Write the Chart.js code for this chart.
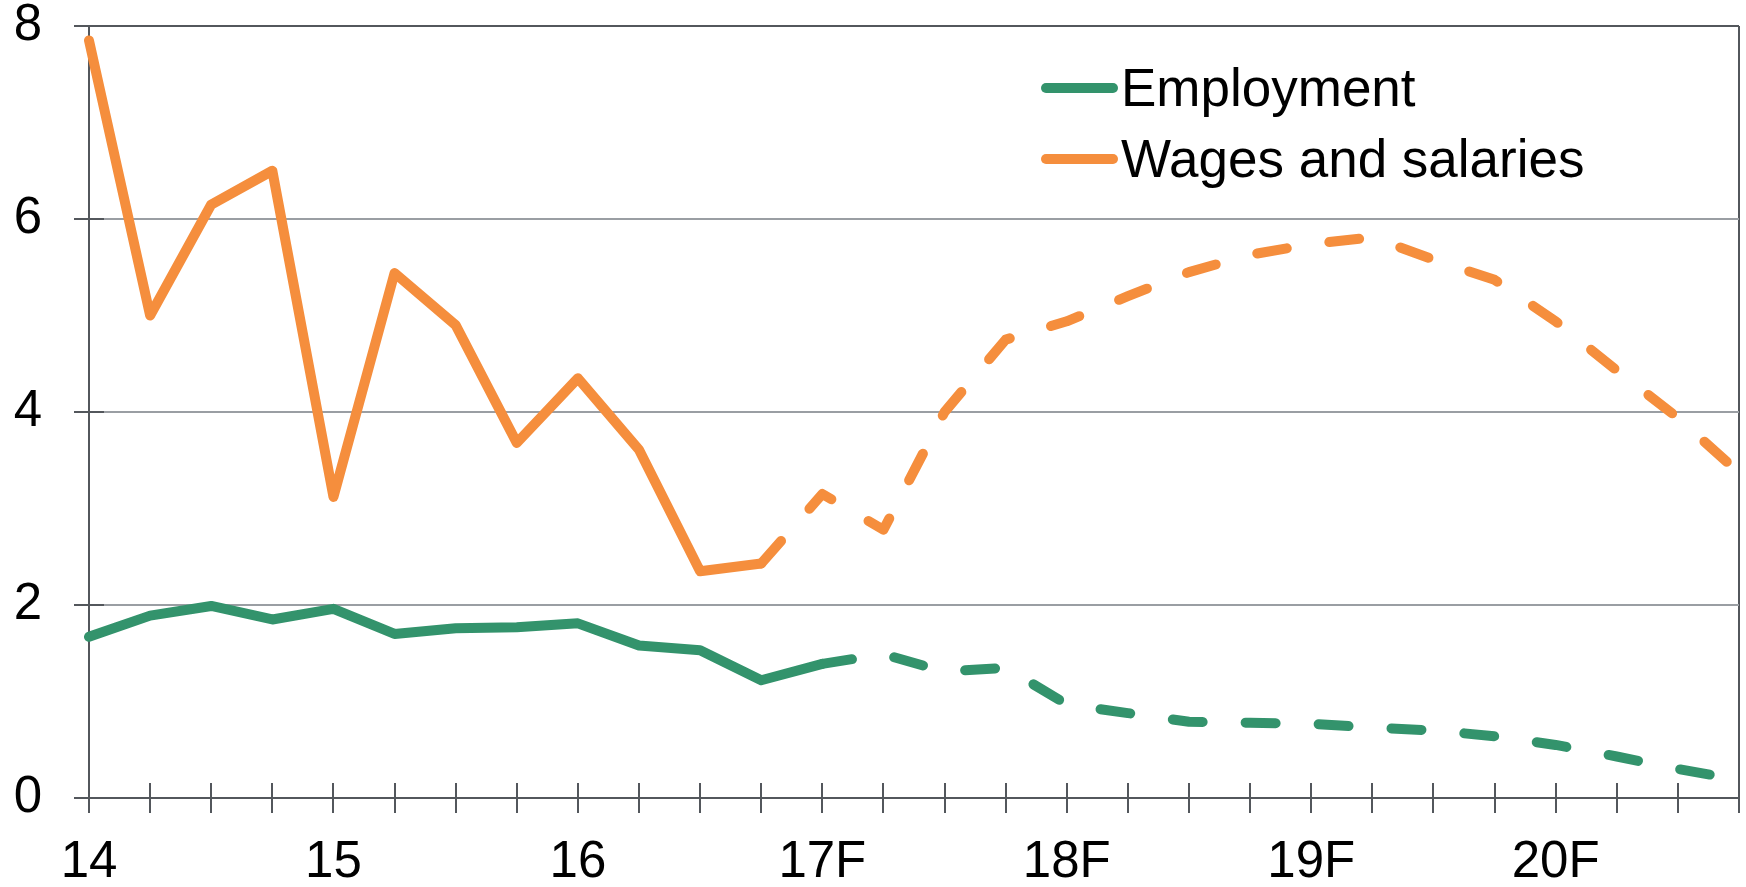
<!DOCTYPE html>
<html>
<head>
<meta charset="utf-8">
<script src="https://cdn.jsdelivr.net/npm/chart.js@4.4.1/dist/chart.umd.min.js"></script>
<style>
  html, body { margin: 0; padding: 0; background: #fff; }
  canvas { display: block; }
</style>
</head>
<body>
<canvas id="chart" width="1746" height="887"></canvas>
<script>
// quarterly, 14Q1 .. 20Q4 (F = forecast)
const quarters = [
  '14Q1', '14Q2', '14Q3', '14Q4', '15Q1', '15Q2', '15Q3', '15Q4',
  '16Q1', '16Q2', '16Q3', '16Q4', '17Q1', '17Q2', '17Q3', '17Q4',
  '18Q1', '18Q2', '18Q3', '18Q4', '19Q1', '19Q2', '19Q3', '19Q4',
  '20Q1', '20Q2', '20Q3', '20Q4'
];
const yearLabels = ['14', '15', '16', '17F', '18F', '19F', '20F'];

const employment = [
  1.67, 1.89, 1.99, 1.85, 1.96, 1.70, 1.76, 1.77,
  1.81, 1.58, 1.53, 1.22, 1.39, 1.49, 1.31, 1.35,
  0.97, 0.88, 0.79, 0.78, 0.77, 0.73, 0.70, 0.64,
  0.55, 0.43, 0.30, 0.19
];
const wages = [
  7.85, 5.00, 6.15, 6.50, 3.12, 5.44, 4.90, 3.68,
  4.35, 3.61, 2.35, 2.43, 3.15, 2.78, 4.00, 4.75,
  4.94, 5.20, 5.45, 5.63, 5.74, 5.81, 5.58, 5.37,
  4.94, 4.43, 3.94, 3.37
];
// index where the dashed (forecast) part of each line begins
const employmentDashFrom = 12;
const wagesDashFrom = 11;

const green = '#33936c';
const orange = '#f58e3d';
const axisGrey = '#53575c';
const gridGrey = '#9a9ea3';
const fontFamily = "'Liberation Sans', Arial, sans-serif";
const dash = [30, 43];

const dashedFrom = (start) => (ctx) => (ctx.p0DataIndex >= start ? dash : undefined);

// tick marks crossing the axes (Chart.js only draws the outer half)
const innerTicks = {
  id: 'innerTicks',
  beforeDatasetsDraw(chart) {
    const { ctx, chartArea, scales } = chart;
    ctx.save();
    ctx.strokeStyle = axisGrey;
    ctx.lineWidth = 2;
    ctx.beginPath();
    scales.x.ticks.forEach((t, i) => {
      const x = Math.round(scales.x.getPixelForTick(i));
      ctx.moveTo(x, chartArea.bottom);
      ctx.lineTo(x, chartArea.bottom - 15);
    });
    scales.y.ticks.forEach((t, i) => {
      const y = Math.round(scales.y.getPixelForTick(i));
      ctx.moveTo(chartArea.left, y);
      ctx.lineTo(chartArea.left + 15, y);
    });
    ctx.stroke();
    ctx.restore();
  }
};

// legend sitting inside the plot, top right
const insideLegend = {
  id: 'insideLegend',
  afterDraw(chart) {
    const ctx = chart.ctx;
    ctx.save();
    ctx.font = '53px ' + fontFamily;
    ctx.textBaseline = 'alphabetic';
    ctx.lineCap = 'round';
    ctx.lineWidth = 10;
    chart.data.datasets.forEach((ds, i) => {
      const base = 106 + i * 71;
      ctx.strokeStyle = ds.borderColor;
      ctx.beginPath();
      ctx.moveTo(1046, base - 18);
      ctx.lineTo(1113, base - 18);
      ctx.stroke();
      ctx.fillStyle = '#000';
      ctx.fillText(ds.label, 1121, base);
    });
    ctx.restore();
  }
};

new Chart(document.getElementById('chart'), {
  type: 'line',
  data: {
    labels: quarters,
    datasets: [
      {
        label: 'Employment',
        data: employment,
        borderColor: green,
        backgroundColor: green,
        borderWidth: 10,
        borderCapStyle: 'round',
        borderJoinStyle: 'round',
        pointRadius: 0,
        tension: 0,
        segment: { borderDash: dashedFrom(employmentDashFrom) }
      },
      {
        label: 'Wages and salaries',
        data: wages,
        borderColor: orange,
        backgroundColor: orange,
        borderWidth: 10,
        borderCapStyle: 'round',
        borderJoinStyle: 'round',
        pointRadius: 0,
        tension: 0,
        segment: { borderDash: dashedFrom(wagesDashFrom) }
      }
    ]
  },
  options: {
    responsive: false,
    animation: false,
    devicePixelRatio: 1,
    layout: { padding: { top: 26, right: 7, left: 0, bottom: 0 } },
    plugins: {
      legend: { display: false },
      tooltip: { enabled: false }
    },
    scales: {
      x: {
        offset: false,
        afterFit: (scale) => {
          scale.height = 89;
          scale.paddingLeft = 0;
          scale.paddingRight = 0;
        },
        border: { color: axisGrey, width: 2 },
        grid: {
          drawOnChartArea: true,
          color: (c) => (c.index === quarters.length - 1 ? axisGrey : 'rgba(0,0,0,0)'),
          lineWidth: 2,
          tickColor: axisGrey,
          tickWidth: 2,
          tickLength: 15
        },
        ticks: {
          autoSkip: false,
          maxRotation: 0,
          padding: 24,
          color: '#000',
          font: { family: fontFamily, size: 51, lineHeight: 1 },
          callback: (v, i) => (i % 4 === 0 ? yearLabels[i / 4] : '')
        }
      },
      y: {
        min: 0,
        max: 8,
        afterFit: (scale) => {
          scale.width = 89;
          scale.paddingTop = 0;
          scale.paddingBottom = 0;
        },
        border: { color: axisGrey, width: 2 },
        grid: {
          color: (c) => (c.tick && c.tick.value === 8 ? axisGrey : gridGrey),
          lineWidth: 2,
          tickColor: axisGrey,
          tickWidth: 2,
          tickLength: 15
        },
        ticks: {
          stepSize: 2,
          padding: 32,
          color: '#000',
          font: { family: fontFamily, size: 51, lineHeight: 1 }
        }
      }
    }
  },
  plugins: [innerTicks, insideLegend]
});
</script>
</body>
</html>
